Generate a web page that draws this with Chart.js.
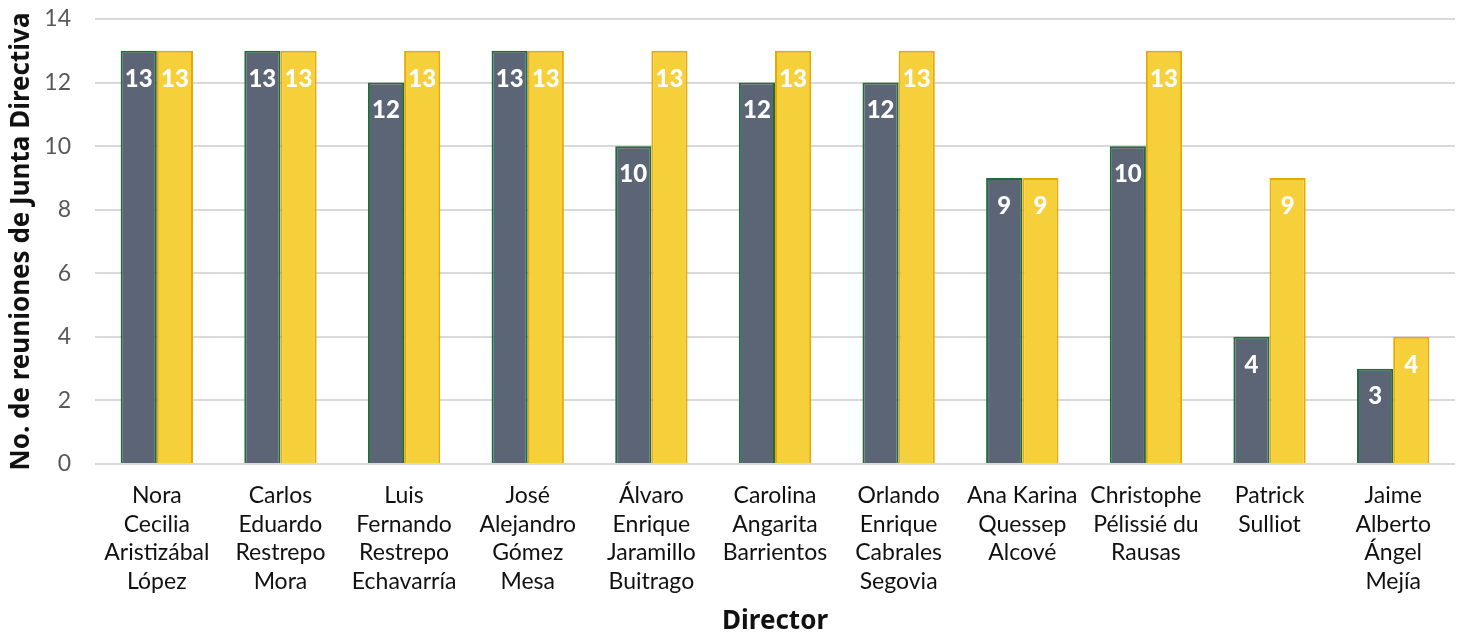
<!DOCTYPE html>
<html>
<head>
<meta charset="utf-8">
<script src="https://cdn.jsdelivr.net/npm/chart.js@4/dist/chart.umd.min.js"></script>
<style>
    html, body { margin: 0; padding: 0; background: #fff; }
    #wrap { width: 1461px; height: 633px; }
</style>
</head>
<body>
<div id="wrap"><canvas id="myChart"></canvas></div>
<script>
// datos del gráfico
const directores = [
    ["Nora", "Cecilia", "Aristizábal", "López"],
    ["Carlos", "Eduardo", "Restrepo", "Mora"],
    ["Luis", "Fernando", "Restrepo", "Echavarría"],
    ["José", "Alejandro", "Gómez", "Mesa"],
    ["Álvaro", "Enrique", "Jaramillo", "Buitrago"],
    ["Carolina", "Angarita", "Barrientos"],
    ["Orlando", "Enrique", "Cabrales", "Segovia"],
    ["Ana Karina", "Quessep", "Alcové"],
    ["Christophe", "Pélissié du", "Rausas"],
    ["Patrick", "Sulliot"],
    ["Jaime", "Alberto", "Ángel", "Mejía"],
];
const asistidas = [13, 13, 12, 13, 10, 12, 12, 9, 10, 4, 3];
const posibles = [13, 13, 13, 13, 13, 13, 13, 9, 13, 9, 4];

const fontName = "Lato, 'Noto Sans', sans-serif";
const titleFont = "'Noto Sans', Lato, sans-serif";

// etiquetas dentro de las barras
const barLabels = {
    id: "barLabels",
    afterDatasetsDraw(chart) {
        const c = chart.ctx;
        c.save();
        c.fillStyle = "#ffffff";
        c.font = "900 24px " + fontName;
        c.textAlign = "center";
        c.textBaseline = "middle";
        chart.data.datasets.forEach((ds, i) => {
            chart.getDatasetMeta(i).data.forEach((bar, j) => {
                c.fillText(String(ds.data[j]), bar.x, bar.y + 28);
            });
        });
        c.restore();
    }
};

const ctx = document.getElementById("myChart");
new Chart(ctx, {
    type: "bar",
    data: {
        labels: directores,
        datasets: [
            {
                label: "Asistidas",
                data: asistidas,
                backgroundColor: "#5b6575",
                borderColor: "#1e6b3c",
                borderWidth: 2,
                categoryPercentage: 0.585,
                barPercentage: 1,
            },
            {
                label: "Posibles",
                data: posibles,
                backgroundColor: "#f6d03a",
                borderColor: "#e8a800",
                borderWidth: 2,
                categoryPercentage: 0.585,
                barPercentage: 1,
            },
        ],
    },
    options: {
        responsive: true,
        maintainAspectRatio: false,
        animation: false,
        layout: { padding: { left: 0, right: 6, top: 0, bottom: 0 } },
        plugins: {
            legend: { display: false },
            tooltip: { enabled: false },
        },
        scales: {
            x: {
                afterFit: (scale) => { scale.height = 169; },
                grid: { display: false, drawTicks: false },
                border: { display: false },
                ticks: {
                    color: "#111",
                    font: { family: fontName, size: 23, lineHeight: 1.25 },
                    maxRotation: 0,
                    autoSkip: false,
                    padding: 17,
                },
                title: {
                    display: true,
                    text: "Director",
                    color: "#111",
                    font: { family: titleFont, size: 26, weight: "bold" },
                    padding: { top: 4, bottom: -4 },
                },
            },
            y: {
                afterFit: (scale) => {
                    scale.width = 95;
                    scale.paddingTop = 19;
                    scale.paddingBottom = 0;
                },
                min: 0,
                max: 14,
                ticks: {
                    stepSize: 2,
                    color: "#595959",
                    font: { family: fontName, size: 23 },
                    padding: 24,
                },
                grid: { color: "#d9d9d9", lineWidth: 2, drawTicks: false },
                border: { display: false },
                title: {
                    display: true,
                    text: "No. de reuniones de Junta Directiva",
                    color: "#111",
                    font: { family: titleFont, size: 26, weight: "bold" },
                    padding: { top: 6, bottom: 0 },
                },
            },
        },
    },
    plugins: [barLabels],
});
</script>
</body>
</html>
